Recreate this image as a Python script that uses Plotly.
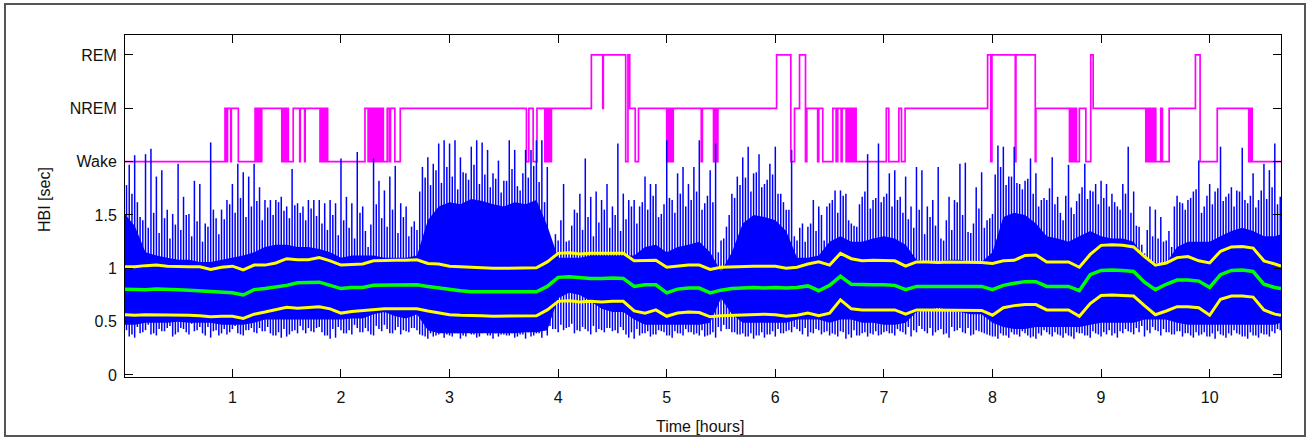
import numpy as np
import plotly.graph_objects as go

# ---------------- data ----------------
# smooth lines sampled every 0.1 h (last point at right edge)
band_upper = [1.015,1.015,1.025,1.03,1.02,1.015,1.015,1.015,0.99,1.01,1.02,0.985,1.03,1.03,1.05,1.09,1.08,1.08,1.10,
              1.07,1.03,1.035,1.04,1.07,1.075,1.075,1.075,1.08,1.045,1.04,1.02,1.015,1.01,1.0,1.0,1.0,
              1.0,1.0,1.005,1.06,1.14,1.145,1.135,1.14,1.14,1.145,1.14,1.07,1.07,1.075,1.01,1.02,1.03,
              1.03,0.99,1.01,1.015,1.02,1.02,1.02,1.02,1.0,1.01,1.04,1.06,1.03,1.14,1.09,1.07,1.075,1.075,
              1.07,1.02,1.06,1.06,1.055,1.06,1.06,1.06,1.055,1.045,1.07,1.075,1.12,1.125,1.06,1.06,1.06,1.01,
              1.13,1.215,1.22,1.215,1.20,1.11,1.03,1.05,1.10,1.11,1.07,1.05,1.16,1.20,1.205,1.19,1.07,1.04,1.02]
median_hbi = [0.805,0.80,0.80,0.805,0.805,0.80,0.795,0.79,0.78,0.78,0.77,0.75,0.80,0.81,0.825,0.84,0.865,0.865,0.87,
              0.84,0.81,0.82,0.82,0.84,0.84,0.845,0.845,0.845,0.83,0.815,0.80,0.79,0.78,0.78,0.78,0.78,
              0.78,0.775,0.78,0.83,0.915,0.92,0.91,0.905,0.905,0.91,0.905,0.83,0.845,0.845,0.77,0.805,0.815,
              0.815,0.77,0.795,0.81,0.815,0.82,0.815,0.82,0.815,0.82,0.835,0.79,0.84,0.925,0.85,0.845,0.845,0.845,
              0.84,0.80,0.83,0.83,0.83,0.83,0.83,0.83,0.83,0.80,0.84,0.86,0.875,0.875,0.83,0.83,0.83,0.79,
              0.94,0.98,0.985,0.98,0.97,0.87,0.80,0.85,0.89,0.89,0.88,0.82,0.94,0.98,0.985,0.97,0.85,0.82,0.81]
band_lower = [0.565,0.56,0.565,0.565,0.56,0.56,0.56,0.555,0.545,0.55,0.55,0.53,0.57,0.59,0.61,0.635,0.625,0.635,0.64,
              0.62,0.58,0.595,0.605,0.615,0.62,0.62,0.62,0.62,0.60,0.58,0.565,0.56,0.56,0.555,0.55,0.55,
              0.55,0.55,0.555,0.61,0.69,0.695,0.685,0.69,0.685,0.69,0.69,0.60,0.58,0.61,0.55,0.58,0.59,
              0.585,0.545,0.555,0.56,0.565,0.57,0.57,0.565,0.55,0.56,0.58,0.555,0.58,0.705,0.62,0.61,0.61,0.61,
              0.61,0.57,0.61,0.61,0.61,0.61,0.61,0.61,0.605,0.56,0.63,0.65,0.66,0.66,0.61,0.61,0.61,0.55,
              0.67,0.745,0.75,0.745,0.74,0.65,0.565,0.60,0.64,0.64,0.63,0.56,0.71,0.74,0.74,0.73,0.61,0.57,0.56]
# solid core of the HBI trace, every 0.1 h
hbi_dense_top = [1.52,1.40,1.15,1.12,1.10,1.08,1.08,1.06,1.06,1.08,1.10,1.12,1.15,1.20,1.22,1.22,1.20,1.20,1.18,
                 1.15,1.10,1.12,1.12,1.12,1.10,1.10,1.10,1.12,1.45,1.58,1.62,1.60,1.65,1.63,1.60,1.58,
                 1.62,1.60,1.64,1.40,1.10,1.10,1.10,1.12,1.12,1.12,1.12,1.12,1.20,1.22,1.15,1.20,1.22,
                 1.25,1.15,0.97,1.15,1.42,1.50,1.48,1.45,1.35,1.10,1.10,1.12,1.25,1.30,1.25,1.25,1.28,1.30,
                 1.28,1.22,1.08,1.06,1.06,1.08,1.08,1.06,1.06,1.15,1.48,1.52,1.50,1.42,1.30,1.28,1.25,1.30,
                 1.35,1.30,1.28,1.28,1.25,1.10,1.05,1.05,1.20,1.25,1.25,1.25,1.30,1.35,1.38,1.35,1.30,1.30,1.32]
hbi_dense_bot = [0.47,0.47,0.49,0.49,0.49,0.50,0.49,0.49,0.49,0.47,0.47,0.47,0.49,0.52,0.52,0.52,0.52,0.52,0.52,
                 0.52,0.52,0.53,0.53,0.57,0.59,0.55,0.53,0.57,0.42,0.39,0.39,0.39,0.39,0.39,0.39,0.39,
                 0.39,0.40,0.40,0.42,0.72,0.77,0.75,0.69,0.62,0.59,0.59,0.52,0.47,0.47,0.47,0.47,0.47,
                 0.47,0.49,0.72,0.57,0.49,0.49,0.49,0.49,0.49,0.52,0.52,0.52,0.49,0.52,0.52,0.49,0.49,0.47,
                 0.47,0.49,0.59,0.61,0.63,0.61,0.59,0.57,0.57,0.49,0.45,0.43,0.43,0.45,0.45,0.45,0.45,0.45,
                 0.47,0.49,0.49,0.49,0.49,0.52,0.52,0.52,0.49,0.47,0.47,0.47,0.47,0.47,0.47,0.47,0.47,0.47,0.49]
# HBI beat extremes, every 0.05 h starting at 0
hbi_max = [1.92,1.97,2.06,1.48,2.07,2.12,1.86,1.92,1.55,1.51,1.98,1.67,1.51,1.82,1.79,1.42,2.18,1.47,1.55,1.64,1.79,1.98,1.90,1.86,1.98,1.76,1.64,1.64,1.64,1.67,1.58,1.93,1.61,1.58,1.64,1.64,1.64,
           1.61,1.64,1.61,2.03,1.67,1.61,2.09,1.58,1.20,2.03,1.82,1.73,1.86,1.96,1.61,1.58,1.39,1.36,1.95,2.04,1.98,2.17,2.20,2.17,2.20,2.04,1.89,2.14,2.20,2.18,2.11,1.89,2.01,1.82,
           2.20,2.11,1.73,2.11,2.11,2.20,2.20,1.95,1.02,1.26,1.79,1.26,1.55,1.70,2.03,1.67,1.72,1.64,1.79,1.58,2.17,1.70,1.64,1.64,1.58,1.86,1.79,1.79,1.51,2.20,1.64,1.89,1.95,1.79,1.95,
           2.20,1.61,1.92,2.17,1.26,1.39,1.70,1.86,2.04,2.14,1.89,2.07,1.79,1.98,2.14,1.70,1.55,2.11,1.26,1.42,1.39,1.64,1.58,1.26,1.61,1.73,1.73,1.70,1.42,1.39,1.67,2.07,1.64,2.17,1.67,
           1.89,1.92,1.67,1.86,1.58,1.95,1.92,1.58,1.64,1.95,1.26,1.67,1.64,1.98,1.99,1.33,1.76,1.90,1.45,1.51,2.15,2.14,1.86,2.14,1.79,1.82,2.03,1.89,1.64,1.64,2.04,1.67,1.45,1.97,1.51,1.70,
           1.98,1.73,1.79,1.82,1.79,1.70,1.58,1.79,2.14,1.72,1.39,1.14,1.58,1.55,1.48,1.26,1.20,1.68,1.61,1.64,1.72,2.01,1.58,1.79,1.72,2.14,1.67,1.76,1.73,2.13,1.61,1.89,1.64,1.98,1.92,2.17,1.67]
hbi_min = [0.47,0.36,0.35,0.39,0.42,0.38,0.37,0.41,0.44,0.36,0.40,0.43,0.38,0.41,0.45,0.37,0.35,0.42,0.39,0.38,0.43,0.39,0.37,0.42,0.40,0.44,0.41,0.39,0.37,0.35,0.36,0.41,0.39,0.42,0.44,0.40,0.45,
           0.37,0.34,0.35,0.42,0.39,0.38,0.44,0.40,0.41,0.37,0.43,0.47,0.39,0.42,0.38,0.41,0.44,0.42,0.37,0.34,0.36,0.38,0.35,0.37,0.39,0.34,0.36,0.38,0.35,0.39,0.37,0.34,0.36,0.38,
           0.37,0.35,0.38,0.34,0.36,0.39,0.35,0.37,0.43,0.40,0.42,0.45,0.39,0.41,0.43,0.38,0.40,0.42,0.44,0.41,0.39,0.42,0.35,0.34,0.37,0.39,0.36,0.38,0.41,0.37,0.35,0.39,0.37,0.40,0.38,
           0.37,0.36,0.38,0.35,0.41,0.43,0.40,0.38,0.39,0.36,0.34,0.37,0.35,0.38,0.36,0.39,0.41,0.40,0.43,0.38,0.36,0.39,0.42,0.40,0.37,0.38,0.41,0.34,0.35,0.37,0.39,0.36,0.38,0.37,0.40,
           0.39,0.37,0.41,0.38,0.36,0.40,0.43,0.39,0.37,0.42,0.38,0.35,0.41,0.44,0.39,0.37,0.42,0.40,0.38,0.36,0.34,0.37,0.35,0.38,0.36,0.39,0.35,0.34,0.37,0.40,0.36,0.38,0.35,0.37,0.34,0.39,
           0.37,0.35,0.39,0.36,0.38,0.37,0.35,0.39,0.41,0.38,0.40,0.36,0.39,0.42,0.37,0.40,0.38,0.41,0.36,0.39,0.35,0.37,0.40,0.36,0.34,0.38,0.35,0.37,0.39,0.36,0.34,0.37,0.35,0.38,0.36,0.39,0.42]
# secondary beat extremes, every 0.05 h starting at 0.025
hbi_max2 = [1.78,1.70,1.62,1.45,1.38,1.52,1.33,1.47,1.28,1.41,1.36,1.50,1.30,1.44,1.25,1.39,1.55,1.32,1.46,1.60,1.52,1.66,1.48,1.58,1.63,1.45,1.57,1.50,1.62,1.54,1.47,1.59,1.52,1.45,1.56,1.49,
            1.42,1.36,1.50,1.31,1.45,1.38,1.28,1.52,1.35,1.41,1.60,1.47,1.39,1.55,1.33,1.48,1.30,1.44,1.72,1.85,1.78,1.92,1.80,1.95,1.86,1.74,1.90,1.83,1.97,1.79,1.88,1.76,1.84,1.71,
            1.82,1.93,1.77,1.89,1.85,1.96,1.81,1.62,1.18,1.32,1.45,1.25,1.40,1.52,1.36,1.48,1.30,1.43,1.55,1.38,1.50,1.35,1.46,1.58,1.42,1.62,1.55,1.68,1.48,1.60,1.66,1.52,1.70,1.58,1.64,
            1.72,1.55,1.68,1.62,1.15,1.28,1.50,1.66,1.78,1.85,1.72,1.90,1.76,1.83,1.88,1.70,1.62,1.55,1.30,1.38,1.25,1.42,1.35,1.50,1.58,1.64,1.52,1.68,1.45,1.40,1.60,1.72,1.56,1.66,1.62,
            1.70,1.58,1.64,1.52,1.46,1.38,1.55,1.32,1.48,1.40,1.28,1.45,1.36,1.62,1.50,1.34,1.42,1.56,1.38,1.47,1.88,1.95,1.78,1.86,1.80,1.74,1.84,1.70,1.58,1.66,1.75,1.60,1.52,1.68,1.57,1.63,
            1.76,1.65,1.72,1.60,1.66,1.58,1.62,1.55,1.70,1.52,1.40,1.22,1.36,1.30,1.28,1.25,1.35,1.58,1.62,1.55,1.66,1.74,1.52,1.68,1.60,1.75,1.63,1.70,1.58,1.72,1.64,1.68,1.57,1.73,1.65,1.76,1.60]
hbi_min2 = [0.42,0.38,0.45,0.40,0.47,0.39,0.43,0.41,0.46,0.38,0.44,0.40,0.48,0.42,0.39,0.45,0.41,0.37,0.43,0.40,0.46,0.38,0.42,0.44,0.39,0.41,0.45,0.37,0.40,0.43,0.38,0.42,0.46,0.39,0.41,0.44,
            0.40,0.37,0.43,0.45,0.39,0.42,0.47,0.40,0.44,0.38,0.46,0.41,0.43,0.39,0.45,0.42,0.40,0.44,0.38,0.36,0.39,0.37,0.40,0.38,0.36,0.39,0.37,0.41,0.38,0.36,0.40,0.37,0.39,0.38,
            0.37,0.39,0.36,0.38,0.40,0.37,0.39,0.42,0.46,0.43,0.47,0.44,0.48,0.42,0.45,0.41,0.46,0.43,0.40,0.44,0.42,0.45,0.38,0.40,0.43,0.39,0.41,0.38,0.42,0.40,0.37,0.41,0.39,0.43,0.40,
            0.39,0.42,0.37,0.40,0.45,0.47,0.43,0.40,0.38,0.36,0.39,0.37,0.40,0.38,0.41,0.43,0.39,0.42,0.45,0.41,0.44,0.40,0.43,0.38,0.41,0.39,0.36,0.40,0.38,0.42,0.37,0.40,0.39,0.41,0.38,
            0.41,0.39,0.43,0.40,0.45,0.42,0.46,0.41,0.44,0.40,0.43,0.39,0.45,0.42,0.40,0.44,0.38,0.41,0.39,0.37,0.36,0.39,0.37,0.40,0.38,0.41,0.37,0.36,0.39,0.42,0.38,0.40,0.37,0.39,0.36,0.40,
            0.39,0.37,0.41,0.38,0.40,0.42,0.39,0.41,0.43,0.40,0.44,0.46,0.42,0.45,0.41,0.43,0.40,0.38,0.41,0.39,0.37,0.40,0.38,0.36,0.39,0.41,0.37,0.39,0.42,0.38,0.36,0.40,0.37,0.39,0.38,0.41,0.43]

# hypnogram: (start time [h], stage)
hyp_time = [0.0,0.932,0.945,0.955,0.985,0.99,1.055,1.209,
            1.215,1.22,1.228,1.233,1.24,1.245,1.252,1.258,1.263,1.27,
            1.455,1.46,1.468,1.475,1.48,1.487,1.493,1.50,1.506,1.51,1.515,1.56,
            1.62,1.625,1.665,1.67,
            1.807,1.812,1.818,1.825,1.83,1.836,1.842,1.848,1.853,1.86,1.865,1.872,1.877,
            2.221,2.25,2.256,2.262,2.268,2.275,2.28,2.287,2.293,2.30,2.306,2.312,2.318,2.325,2.33,2.337,2.343,2.35,2.356,2.362,2.368,2.375,2.38,
            2.39,2.426,2.444,2.456,2.496,2.546,
            3.708,3.73,3.77,3.805,3.877,3.885,3.89,3.90,3.905,3.915,3.92,3.93,3.933,3.938,
            4.306,4.411,4.416,4.622,4.643,4.659,4.71,4.74,
            5.0,5.01,5.015,5.025,5.03,5.04,5.045,5.06,
            5.318,5.328,5.431,5.44,5.445,5.455,5.46,5.471,
            6.012,6.143,6.177,6.223,6.278,6.29,
            6.39,6.40,6.437,6.53,6.56,6.575,6.606,6.615,
            6.652,6.66,6.666,6.672,6.68,6.686,6.692,6.70,6.706,6.712,6.72,6.726,6.732,6.738,6.744,
            7.022,7.045,7.138,7.162,7.195,
            7.955,7.985,7.995,8.21,8.216,8.394,8.40,
            8.709,8.715,8.721,8.727,8.733,8.739,8.745,8.751,8.757,8.762,
            8.774,8.80,8.86,8.905,8.927,
            9.412,9.418,9.424,9.43,9.436,9.442,9.448,9.454,9.46,9.466,9.472,9.48,9.486,9.492,9.504,9.55,9.565,9.627,
            9.869,9.912,10.07,10.36,10.365,10.37,10.375,10.38,10.385,10.392,10.657]
hyp_stage = ['Wake','NREM','Wake','NREM','Wake','NREM','Wake','NREM',
             'Wake','NREM','Wake','NREM','Wake','NREM','Wake','NREM','Wake','NREM',
             'Wake','NREM','Wake','NREM','Wake','NREM','Wake','NREM','Wake','NREM','Wake','NREM',
             'Wake','NREM','Wake','NREM',
             'Wake','NREM','Wake','NREM','Wake','NREM','Wake','NREM','Wake','NREM','Wake','NREM','Wake',
             'NREM','Wake','NREM','Wake','NREM','Wake','NREM','Wake','NREM','Wake','NREM','Wake','NREM','Wake','NREM','Wake','NREM','Wake','NREM','Wake','NREM','Wake','NREM',
             'Wake','NREM','Wake','NREM','Wake','NREM',
             'Wake','NREM','Wake','NREM','Wake','NREM','Wake','NREM','Wake','NREM','Wake','NREM','Wake','NREM',
             'REM','NREM','REM','Wake','REM','NREM','Wake','NREM',
             'Wake','NREM','Wake','NREM','Wake','NREM','Wake','NREM',
             'Wake','NREM','Wake','NREM','Wake','NREM','Wake','NREM',
             'REM','Wake','NREM','REM','Wake','NREM',
             'Wake','NREM','Wake','NREM','Wake','NREM','Wake','NREM',
             'Wake','NREM','Wake','NREM','Wake','NREM','Wake','NREM','Wake','NREM','Wake','NREM','Wake','NREM','Wake',
             'NREM','Wake','NREM','Wake','NREM',
             'REM','Wake','REM','Wake','REM','Wake','NREM',
             'Wake','NREM','Wake','NREM','Wake','NREM','Wake','NREM','Wake','NREM',
             'Wake','NREM','Wake','REM','NREM',
             'Wake','NREM','Wake','NREM','Wake','NREM','Wake','NREM','Wake','NREM','Wake','NREM','Wake','NREM','Wake','NREM','Wake','NREM',
             'REM','Wake','NREM','Wake','NREM','Wake','NREM','Wake','NREM','Wake','Wake']

x_ticks = [1, 2, 3, 4, 5, 6, 7, 8, 9, 10]
y_tickvals = [0, 0.5, 1, 1.5, 2.0, 2.5, 3.0]
y_ticktext = ['0', '0.5', '1', '1.5', 'Wake', 'NREM', 'REM']
stage_level = {'Wake': 2.0, 'NREM': 2.5, 'REM': 3.0}

# ---------------- figure ----------------
X_END = 10.657
t_smooth = np.append(np.round(np.arange(len(band_upper) - 1) * 0.1, 2), X_END)
t_beats = np.round(np.arange(len(hbi_max)) * 0.05, 3)
t_beats2 = np.round(0.025 + np.arange(len(hbi_max2)) * 0.05, 3)

W, H = 1310, 438
L, R, T, B = 125, 29, 35, 61
pw, ph = W - L - R, H - T - B

def px(xp):
    return (xp - L) / pw

def py(yp):
    return (H - B - yp) / ph

fig = go.Figure()

# hypnogram
fig.add_trace(go.Scatter(x=hyp_time, y=[stage_level[s] for s in hyp_stage],
                         mode='lines', line=dict(color='#FF00FF', width=1.7, shape='hv'),
                         hoverinfo='skip', showlegend=False))

# solid HBI core
poly_x = list(t_smooth) + list(t_smooth[::-1])
poly_y = list(hbi_dense_top) + list(hbi_dense_bot[::-1])
fig.add_trace(go.Scatter(x=poly_x, y=poly_y, mode='lines', fill='toself',
                         fillcolor='#0000FF', line=dict(width=0, color='#0000FF'),
                         hoverinfo='skip', showlegend=False))

# HBI beat extremes as vertical strokes
sx, sy = [], []
for tt, lo_arr, hi_arr in [(t_beats, hbi_min, hbi_max), (t_beats2, hbi_min2, hbi_max2)]:
    for t, lo, hi in zip(tt, lo_arr, hi_arr):
        sx += [t, t, None]
        sy += [lo, hi, None]
fig.add_trace(go.Scatter(x=sx, y=sy, mode='lines', line=dict(color='#0000FF', width=1.5),
                         hoverinfo='skip', showlegend=False))

for vals, col, w in [(band_upper, '#FFFF00', 3), (band_lower, '#FFFF00', 3), (median_hbi, '#00FF00', 3.5)]:
    fig.add_trace(go.Scatter(x=t_smooth, y=vals, mode='lines', line=dict(color=col, width=w),
                             hoverinfo='skip', showlegend=False))

axis_font = dict(family='Liberation Sans, Arial, sans-serif', size=16, color='#111')
fig.update_xaxes(range=[0.011, X_END], tickvals=x_ticks, ticks='inside', ticklen=8, tickcolor='#000',
                 showline=True, linecolor='#000', linewidth=1, mirror='ticks',
                 showgrid=False, zeroline=False, tickfont=axis_font, ticklabelstandoff=6)
fig.update_yaxes(range=[-0.019, 3.187], tickvals=y_tickvals, ticktext=y_ticktext, ticks='inside',
                 ticklen=8, tickcolor='#000', showline=True, linecolor='#000', linewidth=1, mirror='ticks',
                 showgrid=False, zeroline=False, tickfont=axis_font, ticklabelstandoff=4)

fig.update_layout(
    width=W, height=H, margin=dict(l=L, r=R, t=T, b=B, autoexpand=False),
    paper_bgcolor='white', plot_bgcolor='white',
    font=axis_font,
    shapes=[dict(type='rect', xref='paper', yref='paper', x0=px(5), x1=px(1305), y0=py(436), y1=py(4),
                 line=dict(color='#555', width=2), layer='below')],
    annotations=[
        dict(text='HBI [sec]', xref='paper', yref='paper', x=px(45), y=py(200), textangle=-90,
             showarrow=False, font=axis_font, xanchor='center', yanchor='middle'),
        dict(text='Time [hours]', xref='paper', yref='paper', x=px(700), y=py(426),
             showarrow=False, font=axis_font, xanchor='center', yanchor='middle'),
    ],
)

fig.write_html('out.html')
